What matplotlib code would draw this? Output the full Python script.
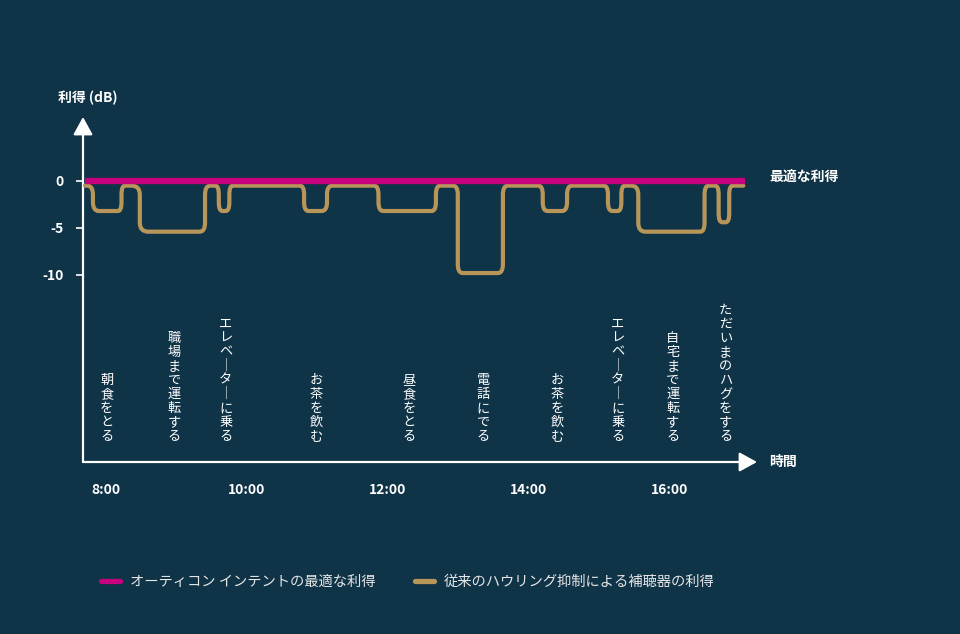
import numpy as np
import matplotlib
matplotlib.use("Agg")
import matplotlib.pyplot as plt
from matplotlib.path import Path
from matplotlib.patches import PathPatch
from matplotlib.lines import Line2D

plt.rcParams['font.family'] = ['Noto Sans CJK JP', 'DejaVu Sans']

BG = '#0f3347'
MAGENTA = '#c6007e'
GOLD = '#b8965a'

# flat parts of the hearing-aid gain curve: (start hour, end hour, gain dB)
seg_start = [7.70, 7.90, 8.27, 8.60, 9.48, 9.65, 9.80, 10.87, 11.21, 11.93,
             12.74, 13.06, 13.70, 14.26, 14.61, 15.18, 15.36, 15.65, 16.55,
             16.74, 16.89]
seg_end = [7.73, 8.17, 8.36, 9.33, 9.55, 9.70, 10.75, 11.06, 11.80, 12.62,
           12.92, 13.56, 14.13, 14.47, 15.06, 15.26, 15.45, 16.43, 16.64,
           16.79, 17.04]
seg_gain = [-0.5, -3.2, -0.5, -5.4, -0.5, -3.2, -0.5, -3.2, -0.5, -3.2,
            -0.5, -9.8, -0.5, -3.2, -0.5, -3.2, -0.5, -5.4, -0.5, -4.4, -0.5]

optimal_start, optimal_end = 7.70, 17.06

# activities (vertical labels)
act_time = [8.01, 8.97, 9.70, 10.98, 12.30, 13.35, 14.40, 15.26, 16.04, 16.79]
act_label = ['朝食をとる', '職場まで運転する', 'エレベーターに乗る', 'お茶を飲む',
             '昼食をとる', '電話にでる', 'お茶を飲む', 'エレベーターに乗る',
             '自宅まで運転する', 'ただいまのハグをする']

xticks = [8, 10, 12, 14, 16]
xtick_labels = ['8:00', '10:00', '12:00', '14:00', '16:00']
yticks = [0, -5, -10]
ytick_labels = ['0', '-5', '-10']

W, H = 960, 634
fig = plt.figure(figsize=(9.6, 6.34), dpi=100, facecolor=BG)
ax = fig.add_axes([83 / W, (H - 462) / H, (757 - 83) / W, (462 - 117) / H])
ax.set_facecolor(BG)
ax.set_xlim(7.674, 17.234)
ax.set_ylim(-29.9, 6.8)

for s in ax.spines.values():
    s.set_visible(False)

# axes with arrow heads
arrow = dict(arrowstyle='-|>,head_length=0.4,head_width=0.22', color='white',
             lw=1.6, mutation_scale=27, shrinkA=0, shrinkB=0)
ax.annotate('', xy=(0, 1), xytext=(0, 0), xycoords='axes fraction', arrowprops=arrow)
ax.annotate('', xy=(1, 0), xytext=(0, 0), xycoords='axes fraction', arrowprops=arrow)

# gold curve: flats joined by near-vertical steps with rounded corners
r = 0.95  # corner radius in dB
verts = [(seg_start[0], seg_gain[0]), (seg_end[0], seg_gain[0])]
codes = [Path.MOVETO, Path.LINETO]
for i in range(1, len(seg_start)):
    a, la = seg_end[i - 1], seg_gain[i - 1]
    b, lb = seg_start[i], seg_gain[i]
    mid = (a + b) / 2
    sgn = 1 if lb > la else -1
    rr = min(r, abs(lb - la) / 2)
    verts += [(mid, la), (mid, la + sgn * rr),
              (mid, lb - sgn * rr),
              (mid, lb), (b, lb),
              (seg_end[i], lb)]
    codes += [Path.CURVE3, Path.CURVE3, Path.LINETO,
              Path.CURVE3, Path.CURVE3, Path.LINETO]
ax.add_patch(PathPatch(Path(verts, codes), facecolor='none', edgecolor=GOLD,
                       lw=3.0, capstyle='round', joinstyle='round', zorder=3))

ax.plot([optimal_start, optimal_end], [0, 0], color=MAGENTA, lw=4.6,
        solid_capstyle='butt', zorder=4)

ax.set_yticks(yticks)
ax.set_yticklabels(ytick_labels)
ax.set_xticks(xticks)
ax.set_xticklabels(xtick_labels)
ax.tick_params(axis='y', colors='white', length=5, width=1.2, pad=9, labelsize=10)
ax.tick_params(axis='x', colors='white', length=0, pad=15, labelsize=10)
for lab in ax.get_xticklabels() + ax.get_yticklabels():
    lab.set_fontweight('bold')

for t, lab in zip(act_time, act_label):
    txt = '\n'.join(lab.replace('ー', '｜'))
    ax.text(t, -27.9, txt, ha='center', va='bottom', color='white',
            fontsize=9.5, linespacing=1.1, multialignment='center')

fig.text(88 / W, 1 - 98 / H, '利得 (dB)', ha='center', va='center',
         color='white', fontsize=10, fontweight='bold')
fig.text(769 / W, 1 - 462 / H, '時間', ha='left', va='center',
         color='white', fontsize=10, fontweight='bold')
fig.text(769 / W, 1 - 177 / H, '最適な利得', ha='left', va='center',
         color='white', fontsize=10, fontweight='bold')

handles = [Line2D([], [], color=MAGENTA, lw=3.8, solid_capstyle='round'),
           Line2D([], [], color=GOLD, lw=3.8, solid_capstyle='round')]
labels = ['オーティコン インテントの最適な利得', '従来のハウリング抑制による補聴器の利得']
leg = fig.legend(handles, labels, loc='center left', bbox_to_anchor=(101 / W, 1 - 582 / H),
                 ncol=2, frameon=False, handlelength=1.3, handletextpad=0.7,
                 columnspacing=2.8, fontsize=10.3, borderpad=0, borderaxespad=0)
for t in leg.get_texts():
    t.set_color('#e6e6e6')

fig.savefig('out.png', dpi=100, facecolor=BG)
